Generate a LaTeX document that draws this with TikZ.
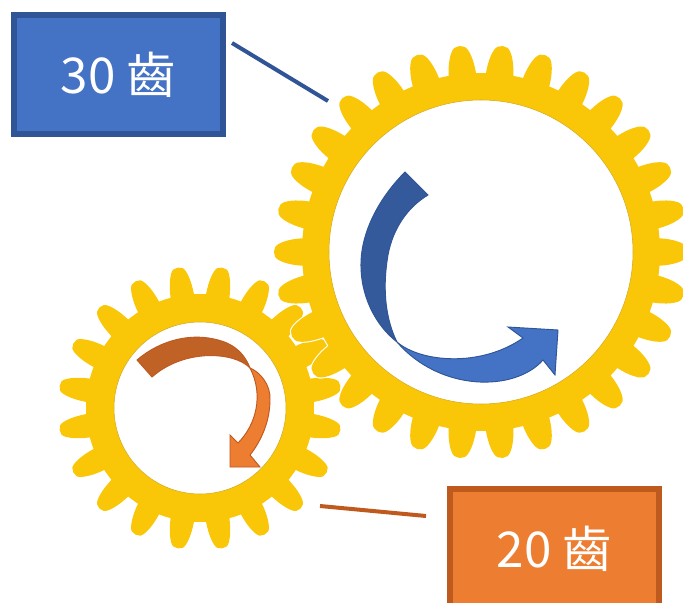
\documentclass[tikz,border=0pt]{standalone}
\usepackage{fontspec}
\setmainfont{Noto Sans CJK TC}
\definecolor{gearyellow}{RGB}{249,199,8}
\definecolor{gearshade}{RGB}{214,168,20}
\definecolor{blueface}{RGB}{68,114,196}
\definecolor{blueedge}{RGB}{47,85,151}
\definecolor{blueback}{RGB}{52,90,156}
\definecolor{orangeface}{RGB}{237,125,49}
\definecolor{orangeedge}{RGB}{190,90,30}
\definecolor{orangeback}{RGB}{192,98,38}
\begin{document}
\begin{tikzpicture}[x=0.75pt,y=-0.75pt,
  tagbox/.style={rectangle, line width=4.5pt, minimum width=156.75pt,
    minimum height=89.25pt, inner sep=0pt, text=white,
    font=\fontsize{37}{40}\selectfont},
  leader/.style={line width=3pt},
  gearbody/.style={fill=gearyellow},
  hole/.style={fill=white, draw=gearshade, line width=0.4pt},
  arrowface/.style={line width=0.7pt, line join=miter}]
\useasboundingbox (0,0) rectangle (683,603);
\clip (0,0) rectangle (683,603);

% small gear, 20 teeth
\begin{scope}[shift={(200,408)}]
  \path[gearbody] (0,0) circle (114)
    \foreach \a in {9,27,...,351}{
      ({\a-6}:110) -- ({\a-6}:113)
      .. controls ({\a-5.3}:127) and ({\a-3.4}:139) .. ({\a-1.9}:141)
      .. controls ({\a-0.7}:142.5) and ({\a+0.7}:142.5) .. ({\a+1.9}:141)
      .. controls ({\a+3.4}:139) and ({\a+5.3}:127) .. ({\a+6}:113)
      -- ({\a+6}:110) -- cycle};
  \path[hole] (0,0) circle (86);
\end{scope}

% large gear, 30 teeth, laid over the small one
\begin{scope}[shift={(481,252)}]
  \path[gearbody, preaction={draw=white, line width=1.6pt}] (0,0) circle (179)
    \foreach \a in {0,12,...,348}{
      ({\a-4.4}:175) -- ({\a-4.4}:179)
      .. controls ({\a-3.9}:192) and ({\a-2.6}:204) .. ({\a-1.3}:206)
      .. controls ({\a-0.5}:207.5) and ({\a+0.5}:207.5) .. ({\a+1.3}:206)
      .. controls ({\a+2.6}:204) and ({\a+3.9}:192) .. ({\a+4.4}:179)
      -- ({\a+4.4}:175) -- cycle};
  \path[hole] (0,0) circle (152);
\end{scope}

% turning arrow of the large gear: shaded back half, then lit front half
\path[arrowface, fill=blueback, draw=blueedge]
  (405,172) .. controls (382,195) and (362,228) .. (361,262)
  .. controls (360,295) and (375,325) .. (397,342)
  .. controls (386,320) and (382,290) .. (388,255)
  .. controls (393,228) and (408,207) .. (428,195) -- cycle;
\path[arrowface, fill=blueface, draw=blueedge]
  (397,342) .. controls (420,362) and (480,368) .. (523,338)
  -- (508,327) -- (558,330) -- (555,375) -- (543,360)
  .. controls (515,392) and (440,392) .. (397,342) -- cycle;

% turning arrow of the small gear
\path[arrowface, fill=orangeback, draw=orangeedge]
  (137,360) .. controls (160,340) and (195,330) .. (227,343)
  .. controls (238,348) and (246,357) .. (250,368)
  .. controls (235,352) and (185,348) .. (152,377) -- cycle;
\path[arrowface, fill=orangeface, draw=orangeedge]
  (250,368) .. controls (260,372) and (271,385) .. (270,400)
  .. controls (270,420) and (262,440) .. (250,455)
  -- (260,467) -- (230,467) -- (230,435) -- (238,443)
  .. controls (256,425) and (264,395) .. (250,368) -- cycle;

% tooth-count labels
\node[tagbox, draw=blueedge, fill=blueface] (t30) at (118.5,74.5) {\raisebox{-3pt}{30 齒}};
\node[tagbox, draw=orangeedge, fill=orangeface] (t20) at (554.5,548.5) {\raisebox{-3pt}{20 齒}};

% leader lines
\coordinate (b1) at (232,43);
\coordinate (b2) at (328,101);
\coordinate (o1) at (320,506);
\coordinate (o2) at (426,516);
\draw[leader, blueedge] (b1) -- (b2);
\draw[leader, orangeedge] (o1) -- (o2);
\end{tikzpicture}
\end{document}
